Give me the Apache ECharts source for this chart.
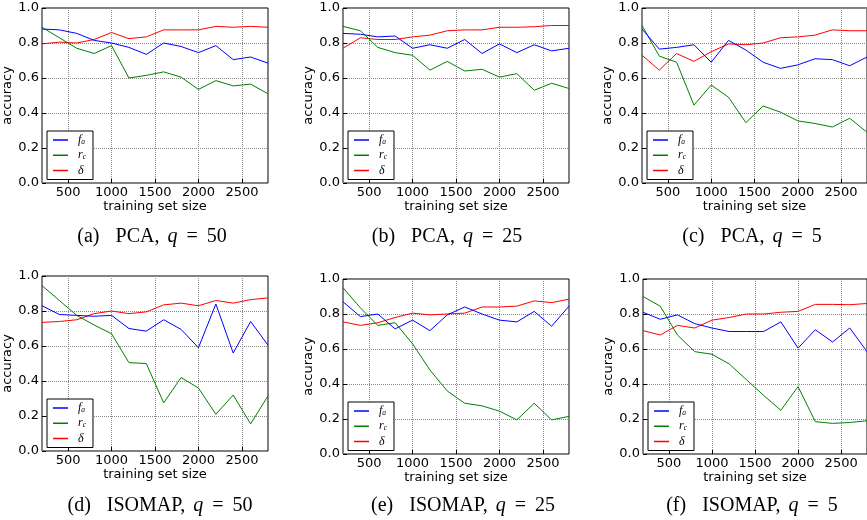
<!DOCTYPE html>
<html>
<head>
<meta charset="utf-8">
<script src="https://cdn.jsdelivr.net/npm/echarts@6/dist/echarts.min.js"></script>
<style>
  html, body { margin: 0; padding: 0; background: #fff; }
  #chart { width: 867px; height: 520px; }
</style>
</head>
<body>
<div id="chart"></div>
<script>
// training set sizes (x values)
const sizes = [200, 400, 600, 800, 1000, 1200, 1400, 1600, 1800, 2000, 2200, 2400, 2600, 2800];

// PCA, q = 50
const pca50Fa = [0.88, 0.875, 0.855, 0.815, 0.80, 0.775, 0.735, 0.80, 0.78, 0.745, 0.785, 0.705, 0.72, 0.685];
const pca50Rc = [0.89, 0.83, 0.77, 0.74, 0.785, 0.60, 0.615, 0.635, 0.605, 0.535, 0.585, 0.555, 0.565, 0.51];
const pca50Delta = [0.795, 0.805, 0.80, 0.82, 0.86, 0.825, 0.835, 0.875, 0.875, 0.875, 0.895, 0.89, 0.895, 0.89];
// PCA, q = 25
const pca25Fa = [0.855, 0.85, 0.835, 0.84, 0.77, 0.79, 0.77, 0.82, 0.74, 0.795, 0.745, 0.79, 0.755, 0.77];
const pca25Rc = [0.895, 0.87, 0.775, 0.745, 0.73, 0.645, 0.695, 0.64, 0.65, 0.605, 0.625, 0.53, 0.57, 0.54];
const pca25Delta = [0.77, 0.83, 0.82, 0.82, 0.835, 0.845, 0.87, 0.875, 0.875, 0.89, 0.89, 0.893, 0.90, 0.90];
// PCA, q = 5
const pca5Fa = [0.88, 0.765, 0.775, 0.79, 0.69, 0.815, 0.76, 0.69, 0.655, 0.675, 0.71, 0.705, 0.67, 0.72];
const pca5Rc = [0.90, 0.725, 0.69, 0.445, 0.56, 0.49, 0.345, 0.44, 0.405, 0.355, 0.34, 0.32, 0.37, 0.29];
const pca5Delta = [0.73, 0.645, 0.74, 0.695, 0.75, 0.795, 0.79, 0.80, 0.83, 0.835, 0.845, 0.875, 0.87, 0.87];
// ISOMAP, q = 50
const iso50Fa = [0.83, 0.78, 0.775, 0.77, 0.775, 0.70, 0.685, 0.75, 0.695, 0.59, 0.84, 0.56, 0.74, 0.605];
const iso50Rc = [0.945, 0.86, 0.775, 0.72, 0.67, 0.505, 0.50, 0.275, 0.42, 0.36, 0.21, 0.32, 0.155, 0.315];
const iso50Delta = [0.735, 0.74, 0.75, 0.785, 0.80, 0.785, 0.795, 0.835, 0.845, 0.83, 0.86, 0.845, 0.865, 0.875];
// ISOMAP, q = 25
const iso25Fa = [0.87, 0.785, 0.80, 0.715, 0.765, 0.705, 0.795, 0.84, 0.80, 0.765, 0.755, 0.815, 0.73, 0.845];
const iso25Rc = [0.95, 0.835, 0.735, 0.75, 0.63, 0.48, 0.36, 0.29, 0.275, 0.245, 0.195, 0.29, 0.195, 0.215];
const iso25Delta = [0.755, 0.735, 0.75, 0.78, 0.805, 0.795, 0.80, 0.805, 0.84, 0.84, 0.845, 0.875, 0.865, 0.885];
// ISOMAP, q = 5
const iso5Fa = [0.81, 0.77, 0.795, 0.745, 0.72, 0.70, 0.70, 0.70, 0.755, 0.605, 0.71, 0.64, 0.72, 0.585];
const iso5Rc = [0.90, 0.845, 0.68, 0.585, 0.57, 0.515, 0.425, 0.335, 0.25, 0.385, 0.185, 0.175, 0.18, 0.19];
const iso5Delta = [0.705, 0.68, 0.735, 0.72, 0.765, 0.78, 0.80, 0.80, 0.81, 0.815, 0.855, 0.855, 0.853, 0.86];

const yTicks = [0, 0.2, 0.4, 0.6, 0.8, 1.0];
const xTickLabels = [500, 1000, 1500, 2000, 2500];

const captions = [
  ['(a)', 'PCA', '50'], ['(b)', 'PCA', '25'], ['(c)', 'PCA', '5'],
  ['(d)', 'ISOMAP', '50'], ['(e)', 'ISOMAP', '25'], ['(f)', 'ISOMAP', '5']
];
const panelData = [
  [pca50Fa, pca50Rc, pca50Delta], [pca25Fa, pca25Rc, pca25Delta], [pca5Fa, pca5Rc, pca5Delta],
  [iso50Fa, iso50Rc, iso50Delta], [iso25Fa, iso25Rc, iso25Delta], [iso5Fa, iso5Rc, iso5Delta]
];
const seriesNames = ['fa', 'rc', 'delta'];
const seriesColors = ['#0000ff', '#008000', '#ff0000'];

// 画布上的位置
const grids = [
  { left: 42, top: 8, width: 226, height: 175 },
  { left: 343, top: 8, width: 226, height: 175 },
  { left: 642, top: 8, width: 228, height: 175 },
  { left: 42, top: 276, width: 226, height: 175 },
  { left: 343, top: 279, width: 226, height: 175 },
  { left: 643, top: 279, width: 226, height: 175 }
];
const captionPos = [[152, 238], [447, 238], [752, 238], [160, 507], [463, 507], [752, 507]];

const sans = 'DejaVu Sans';
const serif = 'Liberation Serif';

let container = echarts.init(document.getElementById('chart'));

let option = {
  animation: false,
  backgroundColor: '#fff',
  title: [],
  legend: [],
  grid: [],
  xAxis: [],
  yAxis: [],
  series: []
};

const capStyle = { fontFamily: serif, fontSize: 20, fontWeight: 'normal', color: '#000' };

grids.forEach((g, i) => {
  option.grid.push(Object.assign({
    show: true,
    borderColor: '#000',
    borderWidth: 1,
    backgroundColor: '#fff'
  }, g));

  option.xAxis.push({
    type: 'value',
    gridIndex: i,
    min: 200,
    max: 2800,
    name: 'training set size',
    nameLocation: 'middle',
    nameGap: 13,
    nameTextStyle: { fontFamily: sans, fontSize: 13, color: '#000' },
    axisLine: { show: false },
    axisTick: { show: true, inside: true, length: 4, lineStyle: { color: '#000' } },
    axisLabel: {
      margin: 3,
      fontFamily: sans,
      fontSize: 13,
      color: '#000',
      showMinLabel: false,
      showMaxLabel: false,
      formatter: v => (xTickLabels.indexOf(v) >= 0 ? String(v) : '')
    },
    splitLine: { show: true, lineStyle: { color: '#888', type: 'dotted', width: 1 } }
  });

  option.yAxis.push({
    type: 'value',
    gridIndex: i,
    min: 0,
    max: 1,
    interval: 0.2,
    name: 'accuracy',
    nameLocation: 'middle',
    nameGap: 21,
    nameTextStyle: { fontFamily: sans, fontSize: 13, color: '#000' },
    axisLine: { show: false },
    axisTick: { show: true, inside: true, length: 4, lineStyle: { color: '#000' } },
    axisLabel: {
      margin: 3,
      fontFamily: sans,
      fontSize: 13,
      color: '#000',
      formatter: v => (yTicks.some(t => Math.abs(t - v) < 1e-9) ? v.toFixed(1) : '')
    },
    splitLine: { show: true, lineStyle: { color: '#888', type: 'dotted', width: 1 } }
  });

  panelData[i].forEach((vals, k) => {
    option.series.push({
      name: seriesNames[k],
      type: 'line',
      xAxisIndex: i,
      yAxisIndex: i,
      symbol: 'none',
      color: seriesColors[k],
      lineStyle: { width: 1, color: seriesColors[k] },
      data: sizes.map((s, j) => [s, vals[j]]),
      z: 3 - k
    });
  });

  option.legend.push({
    data: seriesNames,
    orient: 'vertical',
    left: g.left + 5,
    top: g.top + g.height - 52,
    selectedMode: false,
    icon: 'rect',
    itemWidth: 15,
    itemHeight: 1.5,
    itemGap: 3,
    padding: [3, 7, 3, 6],
    backgroundColor: '#fff',
    borderColor: '#000',
    borderWidth: 1,
    borderRadius: 0,
    textStyle: {
      color: '#000',
      padding: [0, 0, 0, 5],
      rich: {
        m: { fontFamily: serif, fontStyle: 'italic', fontSize: 12, lineHeight: 12.5, color: '#000' },
        s: { fontFamily: serif, fontStyle: 'italic', fontSize: 7.5, lineHeight: 12.5, verticalAlign: 'bottom', color: '#000' }
      }
    },
    formatter: name => {
      if (name === 'fa') return '{m|f}{s|a}';
      if (name === 'rc') return '{m|r}{s|c}';
      return '{m|δ}';
    }
  });

  const c = captions[i];
  option.title.push({
    text: '{n|' + c[0] + '}{p|' + c[1] + ',}{q|q}{e|=}{d|' + c[2] + '}',
    left: captionPos[i][0],
    top: captionPos[i][1] - 11,
    textAlign: 'center',
    padding: 0,
    textStyle: {
      fontWeight: 'normal',
      rich: {
        n: capStyle,
        p: Object.assign({}, capStyle, { padding: [0, 0, 0, 16] }),
        q: Object.assign({}, capStyle, { fontStyle: 'italic', padding: [0, 0, 0, 8] }),
        e: Object.assign({}, capStyle, { padding: [0, 0, 0, 9] }),
        d: Object.assign({}, capStyle, { padding: [0, 0, 0, 9] })
      }
    }
  });
});

container.setOption(option);
</script>
</body>
</html>
